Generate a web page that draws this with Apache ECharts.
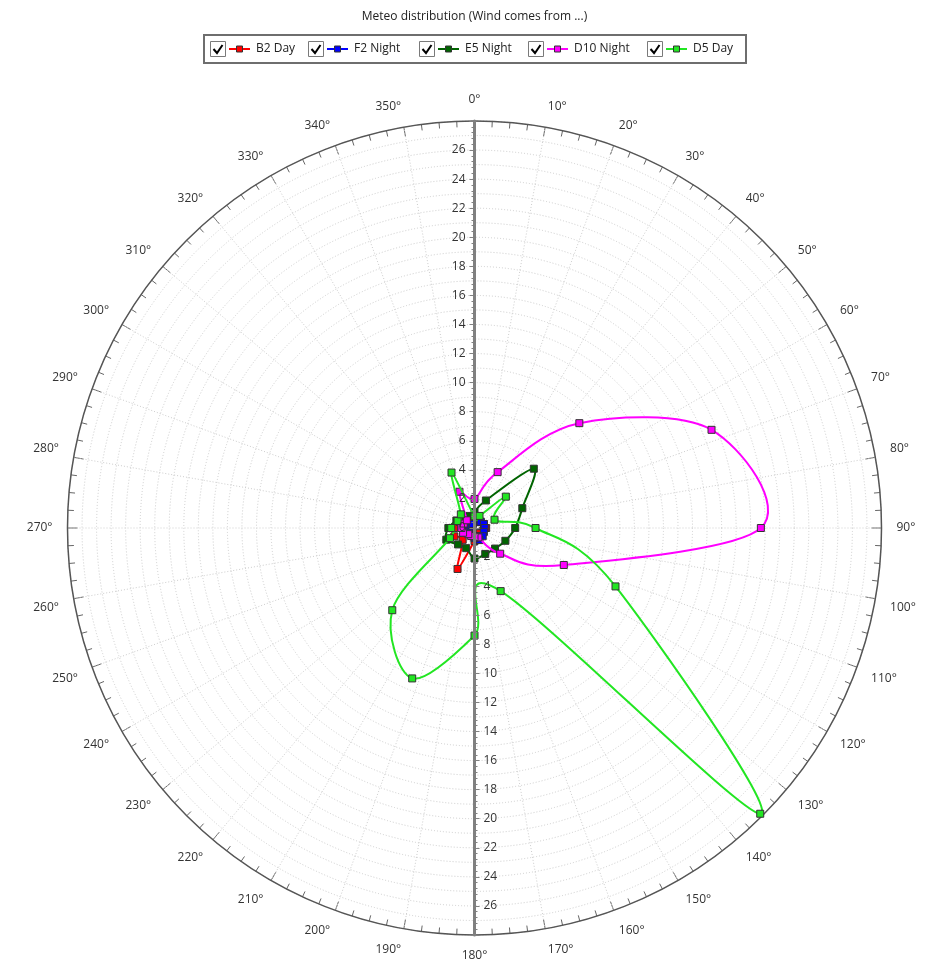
<!DOCTYPE html>
<html>
<head>
<meta charset="utf-8">
<script src="https://cdn.jsdelivr.net/npm/echarts@6.0.0/dist/echarts.min.js"></script>
<style>
html,body{margin:0;padding:0;background:#fff;}
#chart{width:925px;height:962px;}
</style>
</head>
<body>
<div id="chart"></div>
<script>
// ---- data ----
const titleText = 'Meteo distribution (Wind comes from ...)';
const angles = [0, 22.5, 45, 67.5, 90, 112.5, 135, 157.5, 180, 202.5, 225, 247.5, 270, 292.5, 315, 337.5];
const seriesNames = ['B2 Day', 'F2 Night', 'E5 Night', 'D10 Night', 'D5 Day'];
const seriesColors = ['#ff0000', '#0000ff', '#006400', '#ff00ff', '#22e622'];
const b2Day    = [0.5, 0.5, 0.6, 0.7, 0.8, 0.6, 0.5, 0.6, 0.9, 3.05, 1.15, 1.5, 1.4, 1.1, 0.7, 0.5];
const f2Night  = [0.4, 0.5, 0.6, 0.7, 0.7, 0.7, 0.8, 0.9, 0.7, 0.5, 0.4, 0.4, 0.4, 0.3, 0.3, 0.3];
const e5Night  = [1.1, 2.05, 5.77, 3.56, 2.8, 2.3, 2.0, 1.93, 2.1, 1.5, 1.6, 2.1, 1.8, 1.35, 1.1, 0.9];
const d10Night = [2.0, 4.16, 10.2, 17.65, 19.7, 6.65, 2.5, 0.7, 0.6, 0.6, 0.6, 0.85, 0.9, 0.8, 0.75, 2.7];
const d5Day    = [0.8, 0.9, 3.05, 1.49, 4.2, 10.5, 27.8, 4.7, 7.4, 11.2, 8.0, 1.83, 1.6, 1.26, 1.33, 4.13];
const seriesValues = [b2Day, f2Night, e5Night, d10Night, d5Day];
const angleTickLabels = [0, 10, 20, 30, 40, 50, 60, 70, 80, 90, 100, 110, 120, 130, 140, 150, 160, 170,
  180, 190, 200, 210, 220, 230, 240, 250, 260, 270, 280, 290, 300, 310, 320, 330, 340, 350];
const radiusMax = 28;
const angleMax = 360;

const FONT = "'Segoe UI', 'Open Sans', sans-serif";
const CENTER = [474.5, 528];
const RADIUS = 407;
const legendItemX = [210, 308, 419, 528, 647];

const gridStyle = { color: '#cdcdcd', type: [1, 2], width: 1 };

// closed cardinal spline (tension 0.5) through points obtained from the polar coordinate system
function closedSplinePath(pts) {
  const n = pts.length;
  let d = 'M' + pts[0][0] + ',' + pts[0][1];
  for (let i = 0; i < n; i++) {
    const p0 = pts[(i - 1 + n) % n], p1 = pts[i], p2 = pts[(i + 1) % n], p3 = pts[(i + 2) % n];
    const c1x = p1[0] + (p2[0] - p0[0]) / 6, c1y = p1[1] + (p2[1] - p0[1]) / 6;
    const c2x = p2[0] - (p3[0] - p1[0]) / 6, c2y = p2[1] - (p3[1] - p1[1]) / 6;
    d += ' C' + c1x + ',' + c1y + ' ' + c2x + ',' + c2y + ' ' + p2[0] + ',' + p2[1];
  }
  return d + ' Z';
}

const series = [];

// angle labels anchored by their nearest corner just outside the outer circle
series.push({
  name: 'angleLabels',
  type: 'custom',
  coordinateSystem: 'polar',
  polarIndex: 0,
  silent: true,
  z: 30,
  data: angleTickLabels.map(a => [radiusMax, a]),
  renderItem: function (params, api) {
    const a = angleTickLabels[params.dataIndex];
    const p = api.coord([radiusMax, a]);
    const c = api.coord([0, a]);
    const dx = p[0] - c[0], dy = p[1] - c[1];
    const len = Math.sqrt(dx * dx + dy * dy) || 1;
    const ux = dx / len, uy = dy / len;
    const off = 15;
    const align = ux > 0.01 ? 'left' : (ux < -0.01 ? 'right' : 'center');
    const valign = uy < -0.01 ? 'bottom' : (uy > 0.01 ? 'top' : 'middle');
    return {
      type: 'text',
      x: p[0] + ux * off,
      y: p[1] + uy * off,
      style: { text: a + '°', font: '12px ' + FONT, fill: '#333', align: align, verticalAlign: valign }
    };
  }
});

seriesNames.forEach((name, i) => {
  const vals = seriesValues[i];
  series.push({
    name: name,
    type: 'custom',
    coordinateSystem: 'polar',
    polarIndex: 0,
    data: [[vals[0], angles[0]]],
    z: 3 + i * 2,
    silent: true,
    renderItem: function (params, api) {
      const pts = vals.map((v, k) => api.coord([v, angles[k]]));
      return {
        type: 'path',
        shape: { pathData: closedSplinePath(pts) },
        style: { fill: 'none', stroke: seriesColors[i], lineWidth: 2 }
      };
    }
  });
  series.push({
    name: name,
    type: 'scatter',
    coordinateSystem: 'polar',
    polarIndex: 0,
    symbol: 'rect',
    symbolSize: 7,
    z: 4 + i * 2,
    itemStyle: { color: seriesColors[i], borderColor: '#333', borderWidth: 1, opacity: 1 },
    data: vals.map((v, k) => [v, angles[k]])
  });
});

// ---- title & legend (drawn as graphic) ----
const graphics = [];
graphics.push({
  type: 'text', x: CENTER[0], y: 17,
  style: { text: titleText, font: '12px ' + FONT, fill: '#222', align: 'center', verticalAlign: 'middle' }
});
graphics.push({
  type: 'rect', shape: { x: 204, y: 35, width: 542, height: 28 },
  style: { fill: null, stroke: '#6e6e6e', lineWidth: 2 }
});
const ly = 49;
seriesNames.forEach((name, i) => {
  const lx = legendItemX[i];
  graphics.push({ type: 'rect', shape: { x: lx + 0.5, y: ly - 7.5, width: 15, height: 15 },
    style: { fill: '#fff', stroke: '#7a7a7a', lineWidth: 1 } });
  graphics.push({ type: 'polyline', shape: { points: [[lx + 3.5, ly], [lx + 7, ly + 4], [lx + 12.5, ly - 4]] },
    style: { stroke: '#000', lineWidth: 2, fill: null } });
  graphics.push({ type: 'line', shape: { x1: lx + 19, y1: ly, x2: lx + 40, y2: ly },
    style: { stroke: seriesColors[i], lineWidth: 2 } });
  graphics.push({ type: 'rect', shape: { x: lx + 26.5, y: ly - 3, width: 6, height: 6 },
    style: { fill: seriesColors[i], stroke: '#333', lineWidth: 1 } });
  graphics.push({ type: 'text', x: lx + 46, y: ly,
    style: { text: name, font: '12px ' + FONT, fill: '#222', align: 'left', verticalAlign: 'middle' } });
});

const hiddenAngle = (idx, start) => ({
  polarIndex: idx, type: 'value', min: 0, max: angleMax, startAngle: start, clockwise: true,
  axisLine: { show: false }, axisTick: { show: false }, axisLabel: { show: false }, splitLine: { show: false }
});

const radiusLabelAxis = (idx, hideZero) => ({
  polarIndex: idx, type: 'value', min: 0, max: radiusMax, interval: 2,
  axisLine: { show: true, lineStyle: { color: '#808080', width: 3 } },
  axisTick: { show: true, inside: true, length: 5, lineStyle: { color: '#808080', width: 1 } },
  minorTick: { show: true, splitNumber: 5, length: 3, lineStyle: { color: '#808080', width: 1 } },
  axisLabel: { show: true, inside: true, margin: 9, showMaxLabel: false, showMinLabel: !hideZero,
    color: '#333', fontSize: 12, fontFamily: FONT },
  splitLine: { show: false },
  z: 20
});

const option = {
  animation: false,
  backgroundColor: '#fff',
  graphic: graphics,
  polar: [
    { center: CENTER, radius: RADIUS },
    { center: CENTER, radius: RADIUS },
    { center: CENTER, radius: RADIUS }
  ],
  angleAxis: [
    {
      polarIndex: 0, type: 'value', min: 0, max: angleMax, interval: 10, startAngle: 90, clockwise: true,
      axisLine: { show: true, lineStyle: { color: '#555', width: 1.5 } },
      axisTick: { show: true, inside: true, length: 10, lineStyle: { color: '#666', width: 1 } },
      minorTick: { show: true, splitNumber: 4, length: 6, lineStyle: { color: '#666', width: 1 } },
      axisLabel: { show: false },
      splitLine: { show: true, lineStyle: gridStyle }
    },
    hiddenAngle(1, 90),
    hiddenAngle(2, 270)
  ],
  radiusAxis: [
    {
      polarIndex: 0, type: 'value', min: 0, max: radiusMax, interval: 1,
      axisLine: { show: false }, axisTick: { show: false }, axisLabel: { show: false },
      splitLine: { show: true, lineStyle: gridStyle }
    },
    radiusLabelAxis(1, false),
    radiusLabelAxis(2, true)
  ],
  series: series
};

const chart = echarts.init(document.getElementById('chart'), null, { renderer: 'canvas' });
chart.setOption(option);
</script>
</body>
</html>
